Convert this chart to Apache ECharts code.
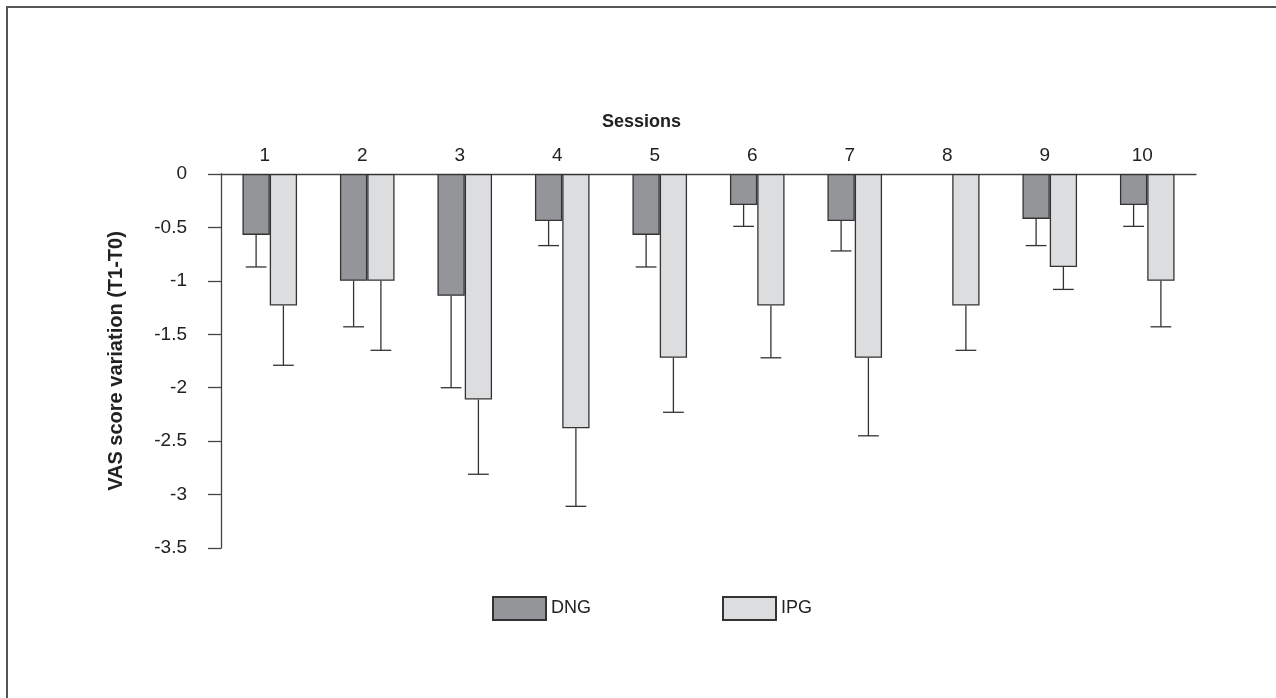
<!DOCTYPE html>
<html>
<head>
<meta charset="utf-8">
<script src="https://cdn.jsdelivr.net/npm/echarts@6/dist/echarts.min.js"></script>
<style>
html,body{margin:0;padding:0;background:#fff;}
#chart{width:1276px;height:698px;}
</style>
</head>
<body>
<div id="chart"></div>
<script>
// ---- Data ----
const sessions = ['1','2','3','4','5','6','7','8','9','10'];
const dngMean = [-0.57, -1.00, -1.14, -0.44, -0.57, -0.29, -0.44, null, -0.42, -0.29];
const dngSD   = [0.30, 0.43, 0.86, 0.23, 0.30, 0.20, 0.28, null, 0.25, 0.20];
const ipgMean = [-1.23, -1.00, -2.11, -2.38, -1.72, -1.23, -1.72, -1.23, -0.87, -1.00];
const ipgSD   = [0.56, 0.65, 0.70, 0.73, 0.51, 0.49, 0.73, 0.42, 0.21, 0.43];
const yTicks = { min: -3.5, max: 0, interval: 0.5 };

const FONT = '"Liberation Sans", Arial, sans-serif';
const BAR_FRAC = 0.28;

function errData(mean, sd) {
  const out = [];
  mean.forEach((m, i) => {
    if (m !== null && sd[i] !== null) out.push([i, m, m - sd[i]]);
  });
  return out;
}

function errRender(side) {
  return function (params, api) {
    const idx = api.value(0);
    const top = api.coord([idx, api.value(1)]);
    const bot = api.coord([idx, api.value(2)]);
    const band = api.size([1, 0])[0];
    const bw = band * BAR_FRAC;
    const x = top[0] + side * bw / 2;
    const cap = bw * 0.38;
    const style = { stroke: '#333', lineWidth: 1.3, fill: null };
    return {
      type: 'group',
      children: [
        { type: 'line', shape: { x1: x, y1: top[1], x2: x, y2: bot[1] }, style: style },
        { type: 'line', shape: { x1: x - cap, y1: bot[1], x2: x + cap, y2: bot[1] }, style: style }
      ]
    };
  };
}

const chart = echarts.init(document.getElementById('chart'));
chart.setOption({
  animation: false,
  backgroundColor: '#fff',
  grid: { left: 221, right: 80, top: 174, bottom: 150 },
  legend: [
    { left: 487, top: 591, itemWidth: 53, itemHeight: 23, icon: 'rect', data: ['DNG'],
      textStyle: { fontFamily: FONT, fontSize: 18, color: '#222' } },
    { left: 717, top: 591, itemWidth: 53, itemHeight: 23, icon: 'rect', data: ['IPG'],
      textStyle: { fontFamily: FONT, fontSize: 18, color: '#222' } }
  ],
  graphic: [
    { type: 'polyline', shape: { points: [[7, 698], [7, 7], [1276, 7]] },
      style: { stroke: '#555', lineWidth: 2, fill: null } },
    { type: 'text', left: 602, top: 113,
      style: { text: 'Sessions', font: 'bold 18px ' + FONT, fill: '#222' } }
  ],
  xAxis: {
    type: 'category',
    position: 'top',
    data: sessions,
    axisLine: { lineStyle: { color: '#444', width: 1.3 } },
    axisTick: { inside: true, length: 14, lineStyle: { color: '#444', width: 1.3 } },
    axisLabel: { fontFamily: FONT, fontSize: 19, color: '#222', margin: 9, padding: [0, 10, 0, 0] },
    splitLine: { show: false }
  },
  yAxis: {
    type: 'value',
    min: yTicks.min, max: yTicks.max, interval: yTicks.interval,
    name: 'VAS score variation (T1-T0)',
    nameLocation: 'middle',
    nameGap: 95,
    nameTextStyle: { fontFamily: FONT, fontWeight: 'bold', fontSize: 20, color: '#222' },
    axisLine: { show: true, lineStyle: { color: '#444', width: 1.3 } },
    axisTick: { show: true, length: 13, lineStyle: { color: '#444', width: 1.3 } },
    axisLabel: { fontFamily: FONT, fontSize: 19, color: '#222', margin: 34 },
    splitLine: { show: false }
  },
  series: [
    { name: 'DNG', type: 'bar', data: dngMean, barWidth: (BAR_FRAC * 100) + '%', barGap: '0%',
      itemStyle: { color: '#939598', borderColor: '#333', borderWidth: 1.3 } },
    { name: 'IPG', type: 'bar', data: ipgMean, barWidth: (BAR_FRAC * 100) + '%', barGap: '0%',
      itemStyle: { color: '#dcdddf', borderColor: '#333', borderWidth: 1.3 } },
    { type: 'custom', data: errData(dngMean, dngSD), renderItem: errRender(-1), z: 5,
      encode: { x: 0, y: [1, 2] } },
    { type: 'custom', data: errData(ipgMean, ipgSD), renderItem: errRender(1), z: 5,
      encode: { x: 0, y: [1, 2] } }
  ]
});
</script>
</body>
</html>
